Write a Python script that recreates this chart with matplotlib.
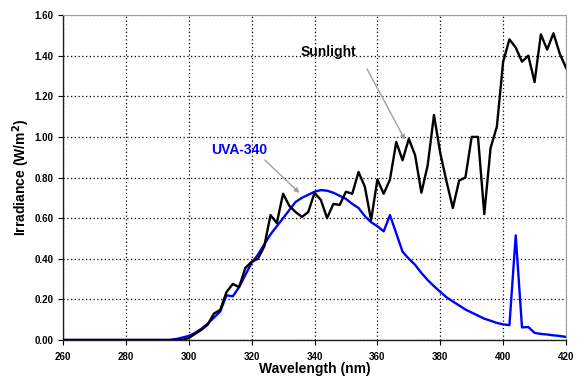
import matplotlib.pyplot as plt
import numpy as np

plt.rcParams['font.family'] = ['Liberation Sans', 'DejaVu Sans']
plt.rcParams['font.weight'] = 'bold'

wavelength = np.arange(260, 421, 2)

sunlight = [0] * 20 + [
    0.01, 0.03, 0.05, 0.075, 0.13, 0.148, 0.236, 0.276, 0.26, 0.355,
    0.385, 0.40, 0.46, 0.615, 0.576, 0.72, 0.66, 0.63, 0.606, 0.63,
    0.724, 0.69, 0.60, 0.67, 0.665, 0.73, 0.72, 0.827, 0.755, 0.59,
    0.79, 0.72, 0.79, 0.975, 0.885, 0.99, 0.91, 0.725, 0.86, 1.108,
    0.92, 0.78, 0.65, 0.785, 0.80, 1.0, 1.0, 0.62, 0.945, 1.05,
    1.37, 1.48, 1.44, 1.37, 1.40, 1.27, 1.505, 1.43, 1.51, 1.41, 1.34]

uva340 = [0] * 18 + [
    0.005, 0.012, 0.02, 0.035, 0.055, 0.08, 0.11, 0.14, 0.22, 0.215,
    0.26, 0.32, 0.38, 0.42, 0.47, 0.52, 0.56, 0.60, 0.64, 0.68,
    0.70, 0.715, 0.73, 0.738, 0.735, 0.725, 0.71, 0.695, 0.67, 0.65,
    0.61, 0.58, 0.56, 0.535, 0.615, 0.525, 0.435, 0.40, 0.37, 0.33,
    0.295, 0.265, 0.237, 0.21, 0.19, 0.17, 0.15, 0.135, 0.12, 0.105,
    0.095, 0.084, 0.077, 0.073, 0.515, 0.062, 0.064, 0.035, 0.03, 0.027,
    0.023, 0.02, 0.015]

xticks = np.arange(260, 421, 20)
yticks = np.arange(0, 1.61, 0.2)

fig = plt.figure(figsize=(5.84, 3.85), dpi=100)
ax = fig.add_axes([0.1079, 0.1169, 0.8613, 0.8441])

ax.plot(wavelength, uva340, color='#0000ff', lw=1.7, zorder=3)
ax.plot(wavelength, sunlight, color='black', lw=1.7, zorder=4)

ax.set_xlim(260, 420)
ax.set_ylim(0, 1.6)
ax.set_xticks(xticks)
ax.set_yticks(yticks)
ax.set_yticklabels(['%.2f' % v for v in yticks])
ax.tick_params(direction='out', length=3.5, labelsize=7, width=0.8)
ax.tick_params(axis='x', pad=5)
for lab in ax.get_xticklabels() + ax.get_yticklabels():
    lab.set_fontweight('bold')

ax.grid(True, color='black', linestyle=(0, (1, 2)), linewidth=0.9)
for s in ['top', 'right']:
    ax.spines[s].set_color('#a0a0a0')
for s in ['left', 'bottom']:
    ax.spines[s].set_color('#202020')
    ax.spines[s].set_linewidth(1.0)

ax.set_xlabel('Wavelength (nm)', fontsize=10, fontweight='bold', labelpad=0)
ax.set_ylabel('Irradiance (W/m$^\\mathbf{2}$)', fontsize=10, fontweight='bold', labelpad=2)

ax.annotate('', xy=(368.8, 0.985), xytext=(356.7, 1.335),
            arrowprops=dict(arrowstyle='-|>', color='#a0a0a0', lw=1.0,
                            mutation_scale=7, shrinkA=0, shrinkB=0))
ax.text(344.3, 1.42, 'Sunlight', fontsize=10, fontweight='bold',
        ha='center', va='center', color='black')

ax.annotate('', xy=(335.2, 0.724), xytext=(324.2, 0.886),
            arrowprops=dict(arrowstyle='-|>', color='#a0a0a0', lw=1.0,
                            mutation_scale=7, shrinkA=0, shrinkB=0))
ax.text(316.1, 0.935, 'UVA-340', fontsize=10, fontweight='bold',
        ha='center', va='center', color='#0000ff')

fig.savefig('out.png', dpi=100)
